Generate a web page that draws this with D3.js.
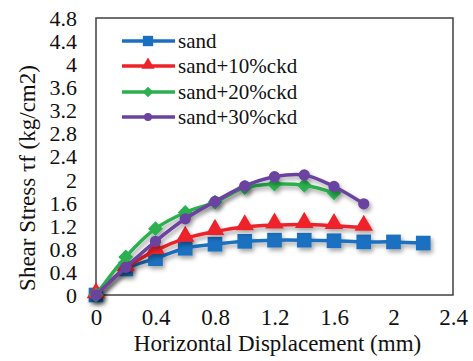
<!DOCTYPE html>
<html>
<head>
<meta charset="utf-8">
<script src="https://cdn.jsdelivr.net/npm/d3@7"></script>
<style>
  body { margin: 0; background: #fff; }
</style>
</head>
<body>
<div id="chart"></div>
<script>
// data
var disp      = [0, 0.2, 0.4, 0.6, 0.8, 1.0, 1.2, 1.4, 1.6, 1.8, 2.0, 2.2];
var sand      = [0, 0.45, 0.63, 0.81, 0.88, 0.93, 0.95, 0.95, 0.94, 0.92, 0.92, 0.90];
var sand10    = [0, 0.47, 0.77, 0.98, 1.10, 1.18, 1.21, 1.22, 1.20, 1.17];
var sand20    = [0, 0.66, 1.15, 1.43, 1.61, 1.86, 1.92, 1.90, 1.77];
var sand30    = [0, 0.48, 0.93, 1.32, 1.62, 1.89, 2.05, 2.08, 1.88, 1.58];
var seriesNames = ["sand", "sand+10%ckd", "sand+20%ckd", "sand+30%ckd"];
var xTicks = [0, 0.4, 0.8, 1.2, 1.6, 2, 2.4];
var yTicks = [0, 0.4, 0.8, 1.2, 1.6, 2, 2.4, 2.8, 3.2, 3.6, 4, 4.4, 4.8];

var width = 473, height = 361;
var margin = {top: 18, right: 20, bottom: 66, left: 96};
var w = width - margin.left - margin.right;
var h = height - margin.top - margin.bottom;
var FONT = "'Liberation Serif', 'Times New Roman', Times, 'DejaVu Serif', serif";

var colors  = ["#1a6fc0", "#ee2229", "#2bb04f", "#6a42a0"];
var shapes  = ["square", "triangle", "diamond", "circle"];
var allData = [sand, sand10, sand20, sand30];

var svg = d3.select("#chart").append("svg")
    .attr("width", width)
    .attr("height", height)
    .style("font-family", FONT);

var defs = svg.append("defs");
var f = defs.append("filter").attr("id", "shadow")
    .attr("x", "-50%").attr("y", "-50%").attr("width", "200%").attr("height", "200%");
f.append("feDropShadow")
    .attr("dx", 2).attr("dy", 3).attr("stdDeviation", 2)
    .attr("flood-color", "#000").attr("flood-opacity", 0.35);

var g = svg.append("g")
    .attr("transform", "translate(" + margin.left + "," + margin.top + ")");

var xScale = d3.scaleLinear().domain([0, 2.4]).range([0, w]);
var yScale = d3.scaleLinear().domain([0, 4.8]).range([h, 0]);

// frame
g.append("rect")
    .attr("x", 0).attr("y", 0)
    .attr("width", w).attr("height", h)
    .attr("fill", "none")
    .attr("stroke", "#404040")
    .attr("stroke-width", 1.5);

var xAxis = d3.axisBottom(xScale).tickValues(xTicks).tickSize(0).tickPadding(20)
    .tickFormat(d3.format("~g"));
var yAxis = d3.axisLeft(yScale).tickValues(yTicks).tickSize(0).tickPadding(19)
    .tickFormat(d3.format("~g"));

var xg = g.append("g").attr("transform", "translate(0," + h + ")").call(xAxis);
var yg = g.append("g").call(yAxis);
xg.select(".domain").remove();
yg.select(".domain").remove();
xg.attr("font-family", null).attr("font-size", null);
yg.attr("font-family", null).attr("font-size", null);
xg.selectAll("text").style("font-family", FONT).style("font-size", "23px")
    .attr("fill", "#111").attr("dy", "0.45em");
yg.selectAll("text").style("font-family", FONT).style("font-size", "22px")
    .attr("fill", "#111").attr("dy", "0.34em");

g.append("text")
    .attr("x", w / 2 + 3)
    .attr("y", h + 56)
    .attr("text-anchor", "middle")
    .style("font-family", FONT)
    .style("font-size", "23px")
    .attr("fill", "#111")
    .text("Horizontal Displacement (mm)");

svg.append("text")
    .attr("transform", "translate(35," + 178 + ") rotate(-90)")
    .attr("text-anchor", "middle")
    .style("font-family", FONT)
    .style("font-size", "23px")
    .attr("fill", "#111")
    .text("Shear Stress \u03c4f  (kg/cm2)");

function symbolFor(shape, size) {
    if (shape === "diamond") {
        var r = Math.sqrt(size / 2);
        return "M0," + (-r) + "L" + r + ",0L0," + r + "L" + (-r) + ",0Z";
    }
    var t = {square: d3.symbolSquare, triangle: d3.symbolTriangle,
             circle: d3.symbolCircle}[shape];
    return d3.symbol().type(t).size(size)();
}
var markerSize = {square: 215, triangle: 150, diamond: 110, circle: 100};

var line = d3.line()
    .x(function(d) { return xScale(d.x); })
    .y(function(d) { return yScale(d.y); })
    .curve(d3.curveCatmullRom.alpha(0.5));

allData.forEach(function(vals, i) {
    var pts = vals.map(function(v, j) { return {x: disp[j], y: v}; });
    var sg = g.append("g").attr("filter", "url(#shadow)");
    sg.append("path")
        .datum(pts)
        .attr("fill", "none")
        .attr("stroke", colors[i])
        .attr("stroke-width", 3.5)
        .attr("d", line);
    sg.selectAll(".m")
        .data(pts)
        .enter().append("path")
        .attr("transform", function(d) {
            var dy = shapes[i] === "triangle" ? -2 : 0;
            return "translate(" + xScale(d.x) + "," + (yScale(d.y) + dy) + ")";
        })
        .attr("d", symbolFor(shapes[i], markerSize[shapes[i]]))
        .attr("fill", colors[i]);
});

// legend
var legY = [41, 66, 92, 117];
var leg = svg.append("g");
seriesNames.forEach(function(name, i) {
    var row = leg.append("g").attr("transform", "translate(0," + legY[i] + ")");
    row.append("line")
        .attr("x1", 122).attr("x2", 175)
        .attr("y1", 0).attr("y2", 0)
        .attr("stroke", colors[i])
        .attr("stroke-width", 3.5);
    row.append("path")
        .attr("transform", "translate(148," + (shapes[i] === "triangle" ? -1 : 0) + ")")
        .attr("d", symbolFor(shapes[i], markerSize[shapes[i]] * 0.5))
        .attr("fill", colors[i]);
    row.append("text")
        .attr("x", 178)
        .attr("y", 0)
        .attr("dy", "0.33em")
        .style("font-family", FONT)
        .style("font-size", "21px")
        .attr("fill", "#111")
        .text(name);
});
</script>
</body>
</html>
